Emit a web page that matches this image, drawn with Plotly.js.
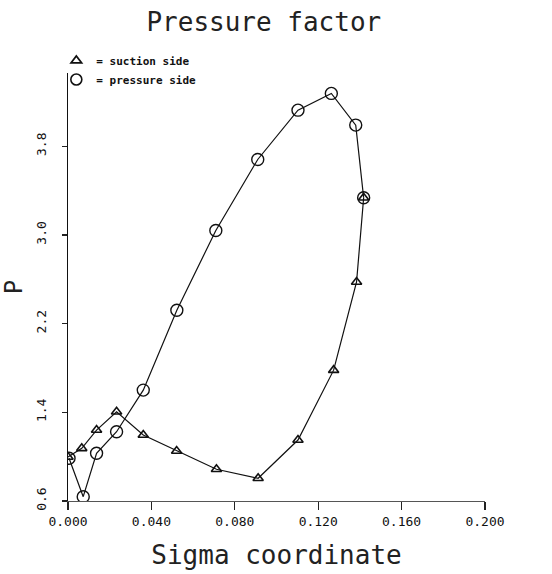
<!DOCTYPE html>
<html>
<head>
<meta charset="utf-8">
<script src="https://cdn.plot.ly/plotly-3.0.1.min.js"></script>
<style>html,body{margin:0;padding:0;background:#fff;}#chart{width:552px;height:574px;}</style>
</head>
<body>
<div id="chart"></div>
<script>
// Suction side (triangles)
const suctionSigma = [0.0000, 0.0066, 0.0137, 0.0233, 0.0361, 0.0521, 0.0712, 0.0912, 0.1103, 0.1274, 0.1384, 0.1418];
const suctionP     = [0.997, 1.075, 1.240, 1.405, 1.195, 1.051, 0.886, 0.805, 1.150, 1.780, 2.575, 3.335];
// Pressure side (circles)
const pressureSigma = [0.0005, 0.0073, 0.0137, 0.0233, 0.0361, 0.0522, 0.0709, 0.0910, 0.1103, 0.1263, 0.1380, 0.1418];
const pressureP     = [0.985, 0.639, 1.030, 1.225, 1.600, 2.320, 3.040, 3.680, 4.125, 4.276, 3.990, 3.335];
// Axis ticks
const xTicks = [0.000, 0.040, 0.080, 0.120, 0.160, 0.200];
const xTickLabels = ["0.000", "0.040", "0.080", "0.120", "0.160", "0.200"];
const yTicks = [0.6, 1.4, 2.2, 3.0, 3.8];
const yTickLabels = ["0.6", "1.4", "2.2", "3.0", "3.8"];
const seriesNames = ["= suction side", "= pressure side"];

const FONT = "DejaVu Sans Mono, Liberation Mono, monospace";

const traces = [
  {
    x: suctionSigma, y: suctionP, mode: "lines+markers", type: "scatter",
    showlegend: false, hoverinfo: "skip",
    line: {color: "#111", width: 1.2},
    marker: {symbol: "triangle-up-open", size: 9, color: "#111", line: {width: 1.6, color: "#111"}}
  },
  {
    x: pressureSigma, y: pressureP, mode: "lines+markers", type: "scatter",
    showlegend: false, hoverinfo: "skip",
    line: {color: "#111", width: 1.2},
    marker: {symbol: "circle-open", size: 12, color: "#111", line: {width: 1.4, color: "#111"}}
  },
  {
    x: [null], y: [null], mode: "markers", type: "scatter", name: seriesNames[0],
    marker: {symbol: "triangle-up-open", size: 9, color: "#111", line: {width: 1.8, color: "#111"}}
  },
  {
    x: [null], y: [null], mode: "markers", type: "scatter", name: seriesNames[1],
    marker: {symbol: "circle-open", size: 11, color: "#111", line: {width: 1.6, color: "#111"}}
  }
];

const layout = {
  width: 552, height: 574,
  margin: {l: 68, r: 67, t: 73, b: 73, pad: 0},
  paper_bgcolor: "#fff", plot_bgcolor: "#fff",
  font: {family: FONT, color: "#111"},
  title: {
    text: "Pressure factor",
    font: {family: FONT, size: 26, color: "#222"},
    xref: "container", yref: "container",
    x: 0.478, xanchor: "center", y: 0.962, yanchor: "middle"
  },
  showlegend: true,
  legend: {
    x: -0.028, xanchor: "left", y: 1.063, yanchor: "top",
    font: {family: FONT, size: 11, color: "#111", weight: "bold"},
    bgcolor: "rgba(0,0,0,0)", borderwidth: 0,
    tracegroupgap: 0, itemwidth: 30,
    traceorder: "normal"
  },
  xaxis: {
    range: [0, 0.2],
    tickvals: xTicks, ticktext: xTickLabels,
    ticks: "outside", ticklen: 8, tickwidth: 1.3, tickcolor: "#222",
    showline: true, linecolor: "#555", linewidth: 1,
    showgrid: false, zeroline: false,
    tickfont: {family: FONT, size: 13, color: "#111"},
    title: {text: "Sigma coordinate", font: {family: FONT, size: 26, color: "#222"}, standoff: 18}
  },
  yaxis: {
    range: [0.6, 4.46],
    tickvals: yTicks, ticktext: yTickLabels,
    ticks: "outside", ticklen: 5, tickwidth: 1.3, tickcolor: "#222",
    tickangle: -90,
    ticklabelstandoff: 10,
    automargin: true,
    showline: true, linecolor: "#111", linewidth: 1.5,
    showgrid: false, zeroline: false,
    tickfont: {family: FONT, size: 13, color: "#111"},
    title: {text: "P", font: {family: FONT, size: 24, color: "#222"}, standoff: 6}
  }
};

Plotly.newPlot("chart", traces, layout, {staticPlot: true, displayModeBar: false});
</script>
</body>
</html>
